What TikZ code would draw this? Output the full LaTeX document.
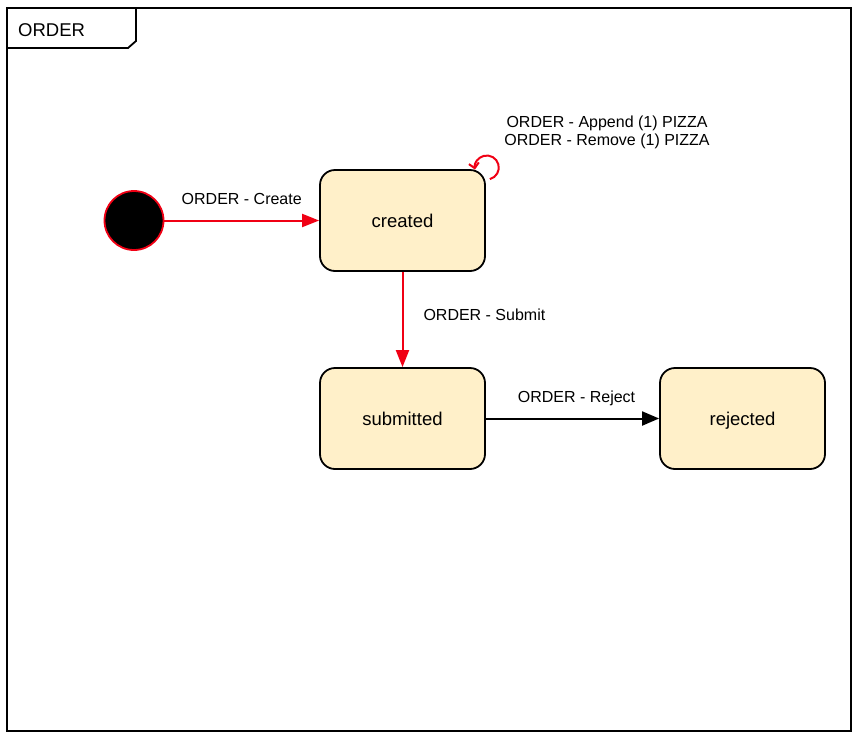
\documentclass[tikz,border=0pt]{standalone}
\usepackage{fontspec}
\setmainfont{Liberation Sans}
\usetikzlibrary{arrows.meta}
\definecolor{statefill}{RGB}{255,240,201}
\definecolor{edgered}{RGB}{240,0,20}
\begin{document}
\begin{tikzpicture}[x=1pt,y=-1pt,
  statebox/.style={draw=black,line width=1.8pt,fill=statefill,rounded corners=15pt,
    minimum width=165pt,minimum height=101pt,inner sep=0pt,text height=13.2pt,text depth=0pt,
    font=\fontsize{18.5}{22}\selectfont},
  lbl/.style={font=\fontsize{16}{19}\selectfont,inner sep=0pt,text depth=0pt},
  redarrow/.style={draw=edgered,line width=2pt,-{Triangle[length=17pt,width=13pt]}},
  blackarrow/.style={draw=black,line width=2pt,-{Triangle[length=17pt,width=14pt]}},
  looparrow/.style={draw=edgered,line width=2pt,-{Straight Barb[length=5pt,width=10pt]}}]
\useasboundingbox (0,0) rectangle (860,737);
% frame
\draw[line width=1.8pt] (7,8) rectangle (851,731);
\draw[line width=1.8pt] (7,48) -- (128,48) -- (136,41) -- (136,8);
\node[font=\fontsize{18.5}{22}\selectfont,inner sep=0pt,anchor=west] (title) at (18,30) {ORDER};
% states
\node[circle,draw=edgered,fill=black,line width=1.8pt,minimum size=59pt,inner sep=0pt] (init) at (134,220.5) {};
\node[statebox] (created) at (402.5,220.5) {created};
\node[statebox] (submitted) at (402.5,418.5) {submitted};
\node[statebox] (rejected) at (742.5,418.5) {rejected};
% transitions
\draw[redarrow] (init) -- node[lbl,above=15pt] (lcreate) {ORDER - Create} (created);
\draw[redarrow] (created) -- node[lbl,right=20pt,pos=0.45] (lsubmit) {ORDER - Submit} (submitted);
\draw[blackarrow] (submitted) -- node[lbl,above=15pt,xshift=4pt] (lreject) {ORDER - Reject} (rejected);
\coordinate (loopstart) at ([shift={(4,10)}]created.north east);
\draw[looparrow] (loopstart) arc (75:-190:12);
\node[lbl,align=center,font=\fontsize{16}{18}\selectfont] (lloop) at (607,131) {ORDER - Append (1) PIZZA\\ORDER - Remove (1) PIZZA};
\end{tikzpicture}
\end{document}
